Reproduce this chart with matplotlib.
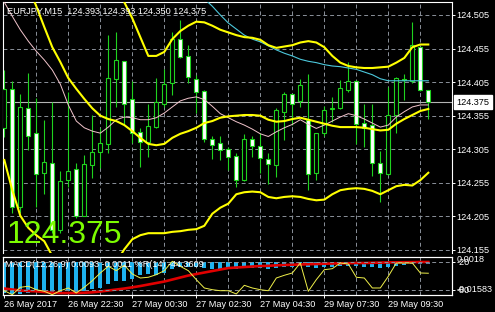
import matplotlib
matplotlib.use("Agg")
import matplotlib.pyplot as plt
import matplotlib.transforms as mtransforms
import numpy as np

plt.rcParams["font.family"] = ["Liberation Sans", "DejaVu Sans"]

nan = np.nan

symbol = "EURJPY,M15"
last_ohlc = "124.393 124.393 124.350 124.375"
last_price = 124.375

# bar indices of the time-scale labels
date_ticks = [0, 8, 16, 24, 32, 40, 48]
date_labels = ["26 May 2017", "26 May 22:30", "27 May 00:30", "27 May 02:30",
               "27 May 04:30", "29 May 07:30", "29 May 09:30"]
price_ticks = [124.155, 124.205, 124.255, 124.305, 124.355, 124.405, 124.455, 124.505]

opens = [124.337, 124.394, 124.219, 124.366, 124.329, 124.270, 124.285, 124.185, 124.259, 124.276,
         124.206, 124.282, 124.301, 124.313, 124.409, 124.436, 124.380, 124.330, 124.316, 124.338,
         124.373, 124.404, 124.469, 124.444, 124.410, 124.392, 124.320, 124.314, 124.305, 124.295,
         124.259, 124.320, 124.310, 124.290, 124.282, 124.360, 124.387, 124.377, 124.349, 124.270,
         124.329, 124.365, 124.366, 124.393, 124.407, 124.344, 124.341, 124.285, 124.268, 124.356,
         124.409, 124.406, 124.457, 124.393]
highs = [124.423, 124.406, 124.388, 124.418, 124.381, 124.349, 124.376, 124.272, 124.391, 124.284,
         124.297, 124.356, 124.337, 124.475, 124.480, 124.437, 124.406, 124.336, 124.373, 124.411,
         124.424, 124.480, 124.498, 124.460, 124.416, 124.393, 124.324, 124.324, 124.309, 124.300,
         124.327, 124.324, 124.329, 124.299, 124.366, 124.391, 124.388, 124.410, 124.417, 124.329,
         124.369, 124.383, 124.408, 124.435, 124.408, 124.372, 124.373, 124.303, 124.397, 124.412,
         124.417, 124.495, 124.458, 124.393]
lows = [124.323, 124.210, 124.210, 124.304, 124.219, 124.239, 124.180, 124.180, 124.249, 124.202,
        124.205, 124.262, 124.277, 124.299, 124.368, 124.341, 124.314, 124.279, 124.294, 124.337,
        124.368, 124.386, 124.441, 124.403, 124.359, 124.316, 124.290, 124.289, 124.274, 124.249,
        124.257, 124.293, 124.269, 124.254, 124.264, 124.319, 124.341, 124.368, 124.245, 124.259,
        124.324, 124.346, 124.365, 124.391, 124.313, 124.308, 124.265, 124.227, 124.267, 124.329,
        124.379, 124.404, 124.392, 124.350]
closes = [124.394, 124.219, 124.368, 124.325, 124.268, 124.286, 124.185, 124.257, 124.273, 124.206,
          124.283, 124.301, 124.314, 124.411, 124.438, 124.373, 124.329, 124.316, 124.340, 124.376,
          124.402, 124.469, 124.443, 124.412, 124.390, 124.320, 124.312, 124.304, 124.294, 124.259,
          124.321, 124.310, 124.292, 124.283, 124.363, 124.388, 124.373, 124.400, 124.268, 124.329,
          124.364, 124.366, 124.396, 124.407, 124.343, 124.336, 124.284, 124.269, 124.356, 124.411,
          124.408, 124.460, 124.393, 124.375]

# Bollinger bands (yellow)
bb_upper = [nan] * 13 + [
    124.579, 124.548, 124.524, 124.500, 124.472, 124.444, 124.444, 124.450, 124.469, 124.481,
    124.489, 124.495, 124.494, 124.489, 124.483, 124.479, 124.475, 124.472, 124.471, 124.468,
    124.460, 124.456, 124.458, 124.460, 124.464, 124.466, 124.464, 124.457, 124.444, 124.434,
    124.429, 124.427, 124.426, 124.426, 124.427, 124.428, 124.434, 124.441, 124.457, 124.461,
    124.461]
bb_mid = [124.639, 124.609, 124.576, 124.547, 124.518, 124.487, 124.457, 124.435, 124.411, 124.395,
          124.380, 124.366, 124.355, 124.350, 124.347, 124.341, 124.332, 124.322, 124.313, 124.311,
          124.313, 124.322, 124.328, 124.332, 124.337, 124.344, 124.347, 124.352, 124.354, 124.355,
          124.356, 124.356, 124.355, 124.349, 124.346, 124.347, 124.350, 124.352, 124.349, 124.346,
          124.343, 124.340, 124.338, 124.338, 124.338, 124.337, 124.335, 124.333, 124.334, 124.343,
          124.350, 124.356, 124.362, 124.365]
bb_lower = [124.289, 124.244, 124.206, 124.188, 124.177, 124.168, 124.146, 124.118] + [nan] * 6 + [
    124.137, 124.156, 124.171, 124.177, 124.180, 124.180, 124.180, 124.182, 124.183, 124.185,
    124.186, 124.191, 124.209, 124.218, 124.224, 124.238, 124.241, 124.242, 124.241, 124.234,
    124.232, 124.234, 124.235, 124.234, 124.231, 124.229, 124.230, 124.238, 124.244, 124.246,
    124.247, 124.246, 124.243, 124.238, 124.244, 124.250, 124.252, 124.251, 124.259, 124.270]

# moving averages
ma_fast = [124.524, 124.503, 124.483, 124.466, 124.451, 124.438, 124.423, 124.402, 124.371, 124.347,
           124.337, 124.332, 124.329, 124.338, 124.349, 124.353, 124.352, 124.349, 124.349, 124.352,
           124.359, 124.368, 124.377, 124.381, 124.383, 124.379, 124.369, 124.358, 124.352, 124.346,
           124.341, 124.335, 124.328, 124.324, 124.331, 124.337, 124.342, 124.349, 124.342, 124.336,
           124.341, 124.347, 124.353, 124.358, 124.355, 124.350, 124.344, 124.338, 124.341, 124.353,
           124.361, 124.368, 124.371, 124.371]
ma_slow = [nan] * 24 + [
    124.542, 124.529, 124.518, 124.505, 124.493, 124.484, 124.475, 124.469, 124.465, 124.459,
    124.453, 124.448, 124.444, 124.439, 124.436, 124.434, 124.431, 124.429, 124.428, 124.426,
    124.424, 124.420, 124.416, 124.410, 124.407, 124.407, 124.407, 124.407, 124.407, 124.407]

# MACD(12,26,9) and %R(14) sub window
macd_main = [-0.01534, -0.01583, -0.01583, -0.01534, -0.01500, -0.01534, -0.01583, -0.01534, -0.01451, -0.01500,
             -0.01422, -0.01325, -0.01291, -0.01096, -0.00935, -0.00935, -0.00838, -0.00672, -0.00609, -0.00643,
             -0.00560, -0.00351, -0.00282, -0.00282, -0.00282, -0.00317, -0.00351, -0.00351, -0.00341, -0.00341,
             -0.00317, -0.00317, -0.00317, -0.00341, -0.00317, -0.00268, -0.00244, -0.00219, -0.00268, -0.00292,
             -0.00268, -0.00244, -0.00219, -0.00195, -0.00219, -0.00244, -0.00268, -0.00292, -0.00268, -0.00219,
             -0.00170, -0.00122, -0.00097, -0.00097]
macd_signal = [-0.01315, -0.01364, -0.01412, -0.01437, -0.01451, -0.01485, -0.01519, -0.01534, -0.01534, -0.01534,
               -0.01519, -0.01500, -0.01461, -0.01412, -0.01364, -0.01315, -0.01256, -0.01193, -0.01120, -0.01047,
               -0.00974, -0.00877, -0.00779, -0.00682, -0.00609, -0.00536, -0.00463, -0.00390, -0.00317, -0.00292,
               -0.00268, -0.00244, -0.00219, -0.00209, -0.00185, -0.00170, -0.00156, -0.00146, -0.00131, -0.00122,
               -0.00107, -0.00097, -0.00088, -0.00083, -0.00073, -0.00073, -0.00063, -0.00054, -0.00044, -0.00039,
               -0.00034, -0.00029, -0.00024, -0.00024]
wpr = [-82.2, -90.8, -74.8, -72.6, -80.0, -83.5, -90.8, -82.2, -76.3, -87.1,
       -74.8, -60.5, -43.8, -29.3, -38.8, -27.1, -46.0, -54.7, -53.1, -47.5,
       -38.8, -18.5, -29.3, -38.8, -58.3, -76.3, -80.0, -82.2, -82.2, -89.3,
       -70.5, -76.3, -80.0, -82.2, -54.7, -48.8, -43.8, -22.2, -83.5, -58.3,
       -36.7, -34.5, -22.2, -24.3, -53.1, -54.7, -76.3, -76.3, -51.0, -22.2,
       -22.2, -22.2, -43.8, -44.36]
wpr_levels = [-20, -80]
sub_title = "MACD(12,26,9) 0.0093 -0.0011 %R(14) -44.3609"
macd_scale_labels = ["0.0018", "-0.01583"]

GREEN = "#1fd21f"
GRID = "#8a9099"
FS = 6.6
W, H = 495, 312

fig = plt.figure(figsize=(W / 100, H / 100), dpi=100, facecolor="black")


def px_box(x0, y0, x1, y1):
    return [x0 / W, 1 - y1 / H, (x1 - x0) / W, (y1 - y0) / H]


ax = fig.add_axes(px_box(3.3, 2, 452, 253), facecolor="black")
sub = fig.add_axes(px_box(3.3, 257, 452, 295), facecolor="black")

x = np.arange(len(opens))
xlim = (-0.125, 55.96)
dash = (0, (4, 3))

# ---- main window ----
ax.set_xlim(*xlim)
ax.set_ylim(124.1505, 124.5243)
for p in price_ticks:
    ax.axhline(p, color=GRID, lw=0.7, ls=dash, zorder=0.5)
for i in range(4, len(x), 4):
    ax.axvline(i, color=GRID, lw=0.7, ls=dash, zorder=0.5)
ax.axhline(last_price, color="#b4b4b4", lw=0.8, zorder=0.8)

o = np.array(opens)
c = np.array(closes)
up = c >= o
ax.vlines(x, lows, highs, color=GREEN, lw=0.8, zorder=2)
ax.bar(x, np.maximum(np.abs(c - o), 0.0006), 0.5, bottom=np.minimum(o, c),
       color=np.where(up, "black", "white"), edgecolor=GREEN, linewidth=0.8, zorder=3)

ax.plot(x, ma_slow, color="#4cc8dc", lw=0.8, zorder=4)
ax.plot(x, ma_fast, color="#f2c4cc", lw=0.7, zorder=4)
for band in (bb_upper, bb_mid, bb_lower):
    ax.plot(x, band, color="#ffff00", lw=1.5, zorder=5)

ax.set_xticks([])
ax.yaxis.tick_right()
ax.set_yticks(price_ticks)
ax.set_yticklabels([f"{p:.3f}" for p in price_ticks])
ax.tick_params(axis="y", colors="white", labelsize=FS, length=2.2, width=0.7, pad=1)
for side in ("left", "top", "right"):
    ax.spines[side].set_color("white")
    ax.spines[side].set_linewidth(0.8)
ax.spines["bottom"].set_visible(False)

trans = mtransforms.blended_transform_factory(ax.transAxes, ax.transData)
ax.text(1.0095, last_price, f"{last_price:.3f}", transform=trans, color="black",
        fontsize=FS, va="center", ha="left", clip_on=False,
        bbox=dict(boxstyle="square,pad=0.25", fc="white", ec="white"))

fig.text(7 / W, 1 - 11 / H, f"{symbol}  {last_ohlc}", color="white",
         fontsize=FS, va="center", ha="left")
fig.text(7 / W, 1 - 243 / H, f"{last_price:.3f}", color="#7cfc00",
         fontsize=23, va="baseline", ha="left")

# ---- sub window ----
sub.set_xlim(*xlim)
sub.set_ylim(-0.0163, 0.0022)
for i in range(4, len(x), 4):
    sub.axvline(i, color=GRID, lw=0.7, ls=dash, zorder=0.5)
sub.bar(x, macd_main, 0.5, color="#1eb2ee", zorder=2)
sub.plot(x, macd_signal, color="#e00000", lw=1.9, zorder=3)
sub.set_yticks([])
sub.set_xticks(date_ticks)
sub.set_xticklabels(date_labels, ha="left")
sub.tick_params(axis="x", colors="white", labelsize=FS, length=2.2, width=0.7, pad=1.5)

wax = sub.twinx()
wax.set_xlim(*xlim)
wax.set_ylim(-91.5, -9.2)
for lvl in wpr_levels:
    wax.axhline(lvl, color=GRID, lw=0.7, ls=dash, zorder=1)
wax.plot(x, wpr, color="#f0f04a", lw=0.7, zorder=3)
wax.set_yticks(wpr_levels)
wax.set_yticklabels([str(v) for v in wpr_levels])
wax.tick_params(axis="y", colors="white", labelsize=FS, length=2.2, width=0.7, pad=1)
for a in (sub, wax):
    for s in a.spines.values():
        s.set_color("white")
        s.set_linewidth(0.8)

fig.text(456.5 / W, 1 - 259.5 / H, macd_scale_labels[0], color="white",
         fontsize=FS, va="center", ha="left")
fig.text(456.5 / W, 1 - 290 / H, macd_scale_labels[1], color="white",
         fontsize=FS, va="center", ha="left")
wax.text(0.004, 0.8, sub_title, transform=sub.transAxes, color="white",
         fontsize=FS, va="center", ha="left", zorder=6)

fig.savefig("out.png", dpi=100, facecolor="black")
